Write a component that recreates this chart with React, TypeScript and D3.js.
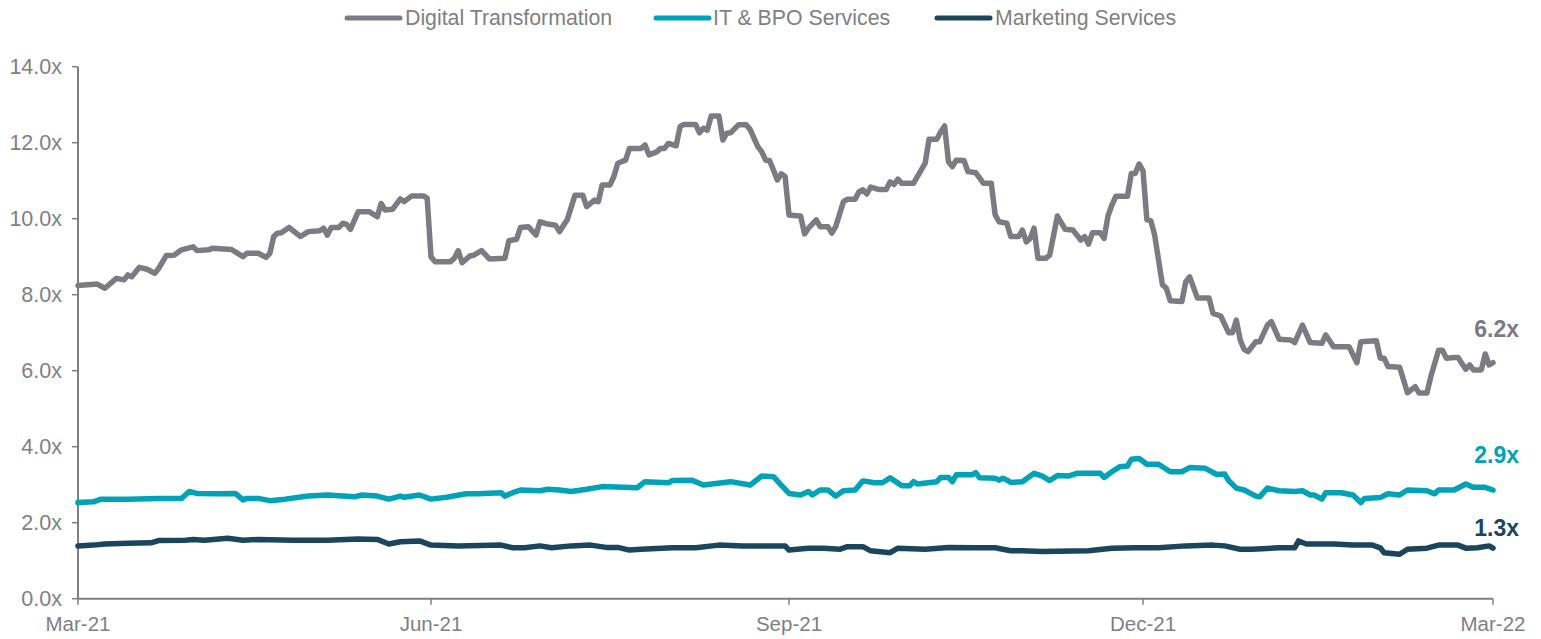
import React from "react";
import * as d3 from "d3";

// ---- data (x = days since 1 Mar 2021, y = EV/Revenue multiple) ----
const dtDays = [0,5,7,10,12,13,14,16,18,20,21,23,25,27,30,31,34,35,40,43,44,47,49,50,51,52,53,55,58,60,63,64,65,66,68,69,70,71,73,76,78,79,80,82,84,85,87,90,91,92,93,97,98,99,100,102,103,105,107,111,112,114,115,117,119,120,122,124,125,127,129,131,132,134,135,136,138,139,140,142,143,146,147,148,150,151,152,153,155,156,157,160,161,162,163,164,166,167,168,169,171,173,174,176,177,178,179,180,181,182,183,184,186,187,188,189,191,192,194,195,196,198,199,201,202,203,204,205,207,209,210,211,212,213,216,217,219,220,222,223,224,225,226,227,229,230,232,234,236,237,238,240,241,243,244,245,246,247,248,250,251,253,255,257,259,260,261,262,264,265,266,267,268,271,272,273,274,275,276,277,278,279,280,281,282,285,286,287,289,292,293,295,297,298,299,300,301,302,304,305,307,308,310,313,314,316,318,321,322,324,328,330,331,335,336,337,338,341,343,345,346,348,349,351,352,353,355,356,358,359,360,362,363,364,365];
const dtValues = [8.24,8.28,8.17,8.43,8.39,8.52,8.47,8.72,8.67,8.56,8.69,9.03,9.04,9.18,9.26,9.16,9.18,9.22,9.19,9.00,9.09,9.09,8.98,9.09,9.53,9.62,9.63,9.77,9.53,9.66,9.68,9.75,9.57,9.77,9.77,9.88,9.85,9.72,10.18,10.18,10.05,10.40,10.23,10.25,10.52,10.45,10.60,10.60,10.54,9.00,8.87,8.87,8.96,9.16,8.84,9.02,9.04,9.16,8.94,8.96,9.42,9.46,9.77,9.79,9.57,9.92,9.86,9.83,9.66,9.97,10.62,10.62,10.32,10.49,10.45,10.89,10.89,11.11,11.46,11.54,11.85,11.85,11.94,11.68,11.76,11.85,11.85,11.98,11.92,12.42,12.48,12.48,12.26,12.38,12.33,12.70,12.70,12.07,12.25,12.26,12.47,12.47,12.35,11.89,11.76,11.54,11.53,11.28,11.02,11.18,11.11,10.10,10.08,10.07,9.60,9.75,9.97,9.79,9.79,9.62,9.79,10.45,10.51,10.51,10.71,10.76,10.65,10.83,10.77,10.77,10.97,10.90,11.04,10.93,10.93,11.11,11.46,12.09,12.09,12.29,12.44,11.50,11.37,11.54,11.53,11.24,11.21,10.93,10.93,10.10,9.92,9.88,9.53,9.53,9.70,9.39,9.48,9.75,8.96,8.96,9.04,10.07,9.72,9.70,9.44,9.53,9.33,9.63,9.63,9.48,10.07,10.36,10.59,10.59,11.19,11.19,11.44,11.26,9.97,9.95,9.57,8.91,8.26,8.17,7.84,7.82,8.34,8.47,7.91,7.91,7.51,7.44,7.00,7.00,7.33,6.81,6.56,6.50,6.76,6.76,7.20,7.29,6.83,6.81,6.74,7.20,6.74,6.72,6.94,6.63,6.63,6.21,6.76,6.79,6.33,6.33,6.11,6.09,5.42,5.58,5.41,5.41,5.84,6.54,6.54,6.33,6.35,6.35,6.04,6.15,6.02,6.02,6.44,6.15,6.21];

const itDays = [0,4,6,13,21,27,29,31,36,41,43,44,47,50,54,60,65,72,74,78,81,84,85,89,92,96,101,104,110,111,113,115,120,122,125,128,132,136,145,147,153,154,159,162,169,174,177,180,182,184,187,189,190,192,194,196,198,201,203,206,208,210,213,215,216,217,222,223,225,226,227,231,232,233,237,238,239,240,241,244,247,249,251,253,256,258,264,265,267,269,271,272,274,276,279,282,285,287,291,294,296,297,299,301,304,305,307,310,314,316,318,319,321,322,326,329,331,332,336,338,341,343,348,350,351,355,358,360,363,365];
const itValues = [2.53,2.55,2.62,2.62,2.64,2.64,2.82,2.77,2.76,2.77,2.60,2.64,2.64,2.58,2.62,2.70,2.73,2.68,2.73,2.70,2.62,2.70,2.67,2.73,2.62,2.67,2.76,2.76,2.79,2.70,2.79,2.86,2.84,2.88,2.86,2.82,2.88,2.95,2.92,3.08,3.05,3.11,3.12,2.99,3.08,2.99,3.23,3.21,2.99,2.77,2.73,2.82,2.73,2.86,2.86,2.70,2.84,2.86,3.10,3.05,3.05,3.18,2.97,2.97,3.08,3.02,3.08,3.19,3.19,3.08,3.26,3.26,3.32,3.18,3.17,3.12,3.17,3.12,3.06,3.08,3.30,3.23,3.11,3.24,3.23,3.30,3.30,3.19,3.34,3.47,3.49,3.67,3.69,3.54,3.54,3.34,3.34,3.45,3.43,3.27,3.28,3.11,2.91,2.86,2.70,2.68,2.91,2.84,2.82,2.84,2.73,2.73,2.62,2.79,2.79,2.73,2.53,2.64,2.66,2.76,2.73,2.86,2.84,2.76,2.86,2.86,3.02,2.93,2.93,2.86];

const msDays = [0,4,7,13,19,21,28,30,33,39,43,47,56,65,73,78,81,84,89,92,99,110,113,116,120,123,128,133,137,140,143,146,154,160,166,172,180,183,184,189,193,197,199,203,205,210,212,219,225,232,237,241,244,249,261,267,273,279,286,293,296,300,303,310,314,315,317,324,329,334,336,337,341,343,348,351,356,358,361,364,365];
const msValues = [1.39,1.41,1.44,1.46,1.47,1.53,1.54,1.56,1.54,1.59,1.54,1.56,1.54,1.54,1.57,1.56,1.44,1.50,1.52,1.41,1.39,1.41,1.34,1.34,1.39,1.34,1.39,1.41,1.35,1.35,1.28,1.30,1.34,1.34,1.41,1.39,1.39,1.39,1.28,1.33,1.33,1.30,1.37,1.37,1.26,1.21,1.33,1.30,1.35,1.34,1.34,1.26,1.26,1.24,1.26,1.33,1.34,1.34,1.39,1.41,1.39,1.30,1.30,1.34,1.34,1.52,1.44,1.44,1.41,1.41,1.34,1.21,1.17,1.30,1.33,1.41,1.41,1.33,1.34,1.39,1.33];

const seriesNames = ["Digital Transformation", "IT & BPO Services", "Marketing Services"];
const seriesColors = ["#7b7b83", "#00a2b8", "#1a455d"];
const endLabels = ["6.2x", "2.9x", "1.3x"];
const xTickLabels = ["Mar-21", "Jun-21", "Sep-21", "Dec-21", "Mar-22"];
const xTickDates = ["2021-03-01", "2021-06-01", "2021-09-01", "2021-12-01", "2022-03-01"];
const yTicks = [0, 2, 4, 6, 8, 10, 12, 14];

const START = new Date(2021, 2, 1);
const toDate = (d: number) => d3.timeDay.offset(START, d);
const parse = d3.timeParse("%Y-%m-%d");

export default function App() {
  const W = 1541, H = 639;
  const tickDates = xTickDates.map((s) => parse(s) as Date);
  const x = d3.scaleTime().domain(tickDates).range([78, 431, 789, 1143, 1493]);
  const y = d3.scaleLinear().domain([0, 14]).range([598.7, 66.7]);

  const all = [
    dtDays.map((d, i) => ({ date: toDate(d), v: dtValues[i] })),
    itDays.map((d, i) => ({ date: toDate(d), v: itValues[i] })),
    msDays.map((d, i) => ({ date: toDate(d), v: msValues[i] })),
  ];
  const line = d3
    .line<{ date: Date; v: number }>()
    .x((p) => x(p.date))
    .y((p) => y(p.v));

  const axisColor = "#7f7f85";
  const textColor = "#7f7f85";
  const font = "'Liberation Sans', Arial, sans-serif";

  const legendPos = [
    { lx: 347, tx: 405 },
    { lx: 656, tx: 713 },
    { lx: 937, tx: 995 },
  ];
  const endY = [329, 455, 528];

  return (
    <svg
      width={W}
      height={H}
      style={{ position: "absolute", left: 0, top: 0, background: "#fff" }}
      fontFamily={font}
    >
      {/* legend */}
      {seriesNames.map((n, i) => (
        <g key={n}>
          <line
            x1={legendPos[i].lx}
            x2={legendPos[i].lx + 53}
            y1={18}
            y2={18}
            stroke={seriesColors[i]}
            strokeWidth={5}
            strokeLinecap="round"
          />
          <text x={legendPos[i].tx} y={18} dy="0.35em" fontSize={21.3} fill={textColor}>
            {n}
          </text>
        </g>
      ))}

      {/* y axis */}
      <line x1={78} x2={78} y1={y(14)} y2={y(0)} stroke={axisColor} strokeWidth={2} />
      {yTicks.map((t) => (
        <g key={t}>
          <line x1={72} x2={78} y1={y(t)} y2={y(t)} stroke={axisColor} strokeWidth={1.5} />
          <text x={62} y={y(t)} dy="0.35em" textAnchor="end" fontSize={21.5} fill={textColor}>
            {t.toFixed(1) + "x"}
          </text>
        </g>
      ))}

      {/* x axis */}
      <line x1={78} x2={1493} y1={y(0)} y2={y(0)} stroke={axisColor} strokeWidth={2} />
      {tickDates.map((d, i) => (
        <g key={i}>
          <line x1={x(d)} x2={x(d)} y1={y(0)} y2={y(0) + 6} stroke={axisColor} strokeWidth={1.5} />
          <text x={x(d)} y={631} textAnchor="middle" fontSize={20.5} fill={textColor}>
            {xTickLabels[i]}
          </text>
        </g>
      ))}

      {/* lines */}
      {all.map((data, i) => (
        <path
          key={i}
          d={line(data) || ""}
          fill="none"
          stroke={seriesColors[i]}
          strokeWidth={5.5}
          strokeLinejoin="round"
          strokeLinecap="round"
        />
      ))}

      {/* end labels */}
      {endLabels.map((l, i) => (
        <text
          key={l}
          x={1519}
          y={endY[i]}
          dy="0.35em"
          textAnchor="end"
          fontSize={23}
          fontWeight="bold"
          fill={seriesColors[i]}
        >
          {l}
        </text>
      ))}
    </svg>
  );
}
